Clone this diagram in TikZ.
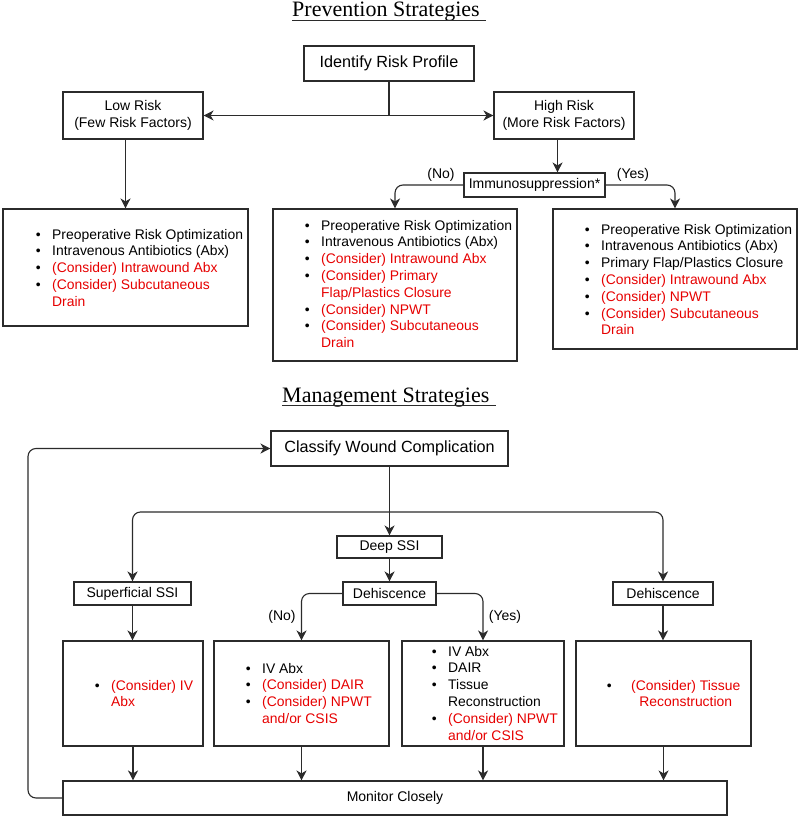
\documentclass[tikz,border=0pt]{standalone}
\usepackage{fontspec}
\setmainfont{Liberation Sans}
\newfontfamily\serifttl{Liberation Serif}
\usetikzlibrary{arrows.meta}
\definecolor{redtxt}{HTML}{E60000}
\definecolor{linec}{HTML}{2B2B2B}
\newcommand\bul{\llap{\textbullet\hspace{11.5pt}}}
\newcommand\rd[1]{\textcolor{redtxt}{#1}}
\tikzset{
  box/.style={draw=linec, line width=1.1pt, inner sep=0pt, align=center, font=\fontsize{14}{17.5}\selectfont},
  bigbox/.style={box, font=\fontsize{16.2}{19}\selectfont},
  arr/.style={draw=linec, line width=1.1pt, -{Stealth[length=10pt,width=10pt,inset=3pt]}},
  listtxt/.style={anchor=base west, inner sep=0pt, font=\fontsize{13.9}{16.8}\selectfont},
  lbl/.style={inner sep=0pt, font=\fontsize{14}{17}\selectfont},
  ttl/.style={anchor=base west, inner sep=0pt, font=\serifttl\fontsize{22}{26}\selectfont},
  uline/.style={draw=linec, line width=0.8pt},
}
\begin{document}
\begin{tikzpicture}[x=1pt, y=-1pt]
\useasboundingbox (0,0) rectangle (800,818);

% ---------- Prevention ----------
\node[ttl] (ptitle) at (292,17) {Prevention Strategies};
\draw[uline] ([yshift=-3pt]ptitle.base west) -- ([yshift=-3pt,xshift=6pt]ptitle.base east);

\node[bigbox, minimum width=170, minimum height=35] (identify) at (389,63.5) {Identify Risk Profile};
\node[box, minimum width=140, minimum height=47] (low) at (133,115.5) {Low Risk\\(Few Risk Factors)};
\node[box, minimum width=140, minimum height=47] (high) at (564,115.5) {High Risk\\(More Risk Factors)};
\node[box, minimum width=141, minimum height=24] (immuno) at (534.5,185) {Immunosuppression*};
\node[lbl] (pno) at (441,175) {(No)};
\node[lbl] (pyes) at (633,175) {(Yes)};

\node[box, minimum width=245, minimum height=117] (lowbox) at (125.5,267.5) {};
\node[box, minimum width=244, minimum height=152] (midbox) at (395,285) {};
\node[box, minimum width=244, minimum height=140] (rightbox) at (675,279) {};

\node[listtxt] (lowtxt) at (52,239) {\begin{tabular}[t]{@{}l@{}}
\bul Preoperative Risk Optimization\\
\bul Intravenous Antibiotics (Abx)\\
\bul\rd{(Consider) Intrawound Abx}\\
\bul\rd{(Consider) Subcutaneous}\\
\rd{Drain}
\end{tabular}};
\node[listtxt] (midtxt) at (321,230) {\begin{tabular}[t]{@{}l@{}}
\bul Preoperative Risk Optimization\\
\bul Intravenous Antibiotics (Abx)\\
\bul\rd{(Consider) Intrawound Abx}\\
\bul\rd{(Consider) Primary}\\
\rd{Flap/Plastics Closure}\\
\bul\rd{(Consider) NPWT}\\
\bul\rd{(Consider) Subcutaneous}\\
\rd{Drain}
\end{tabular}};
\node[listtxt] (righttxt) at (601,234) {\begin{tabular}[t]{@{}l@{}}
\bul Preoperative Risk Optimization\\
\bul Intravenous Antibiotics (Abx)\\
\bul Primary Flap/Plastics Closure\\
\bul\rd{(Consider) Intrawound Abx}\\
\bul\rd{(Consider) NPWT}\\
\bul\rd{(Consider) Subcutaneous}\\
\rd{Drain}
\end{tabular}};

\draw[arr] (identify.south) |- (low.east);
\draw[arr] (identify.south) |- (high.west);
\draw[arr] (low.south -| lowbox.north) -- (lowbox.north);
\draw[arr] ([xshift=-6.5pt]high.south) -- ([xshift=-6.5pt]high.south |- immuno.north);
\draw[arr, rounded corners=8pt] (immuno.west) -| (midbox.north);
\draw[arr, rounded corners=8pt] (immuno.east) -| (rightbox.north);

% ---------- Management ----------
\node[ttl] (mtitle) at (282,402) {Management Strategies};
\draw[uline] ([yshift=-3pt]mtitle.base west) -- ([yshift=-3pt,xshift=6pt]mtitle.base east);

\node[bigbox, minimum width=237, minimum height=35] (classify) at (389.5,448.5) {Classify Wound Complication};
\node[box, minimum width=105, minimum height=22] (deep) at (389.5,547) {Deep SSI};
\node[box, minimum width=93, minimum height=23] (dehis) at (389.5,593.5) {Dehiscence};
\node[box, minimum width=117, minimum height=23] (superficial) at (132.5,593.5) {Superficial SSI};
\node[box, minimum width=100, minimum height=23] (dehisR) at (663,593.5) {Dehiscence};
\node[lbl] (mno) at (282,617) {(No)};
\node[lbl] (myes) at (505,617) {(Yes)};

\node[box, minimum width=140, minimum height=105] (b1) at (133,693.5) {};
\node[box, minimum width=175, minimum height=105] (b2) at (301.5,693.5) {};
\node[box, minimum width=162, minimum height=105] (b3) at (483,693.5) {};
\node[box, minimum width=175, minimum height=105] (b4) at (663.5,693.5) {};
\node[box, minimum width=664, minimum height=34] (monitor) at (395,798) {Monitor Closely};

\node[listtxt] (b1txt) at (111,690) {\begin{tabular}[t]{@{}l@{}}
\bul\rd{(Consider) IV}\\
\rd{Abx}
\end{tabular}};
\node[listtxt] (b2txt) at (262,673) {\begin{tabular}[t]{@{}l@{}}
\bul IV Abx\\
\bul\rd{(Consider) DAIR}\\
\bul\rd{(Consider) NPWT}\\
\rd{and/or CSIS}
\end{tabular}};
\node[listtxt] (b3txt) at (448,656) {\begin{tabular}[t]{@{}l@{}}
\bul IV Abx\\
\bul DAIR\\
\bul Tissue\\
Reconstruction\\
\bul\rd{(Consider) NPWT}\\
\rd{and/or CSIS}
\end{tabular}};
\node[listtxt] (b4txt) at (606.6,690) {\begin{tabular}[t]{@{}l@{\hspace{19.5pt}}c@{}}
\textbullet & \rd{(Consider) Tissue}\\
 & \rd{Reconstruction}
\end{tabular}};

\coordinate (split) at (389.5,512);
\coordinate (loopx) at (28,0);
\draw[arr] (classify.south) -- (deep.north);
\draw[arr, rounded corners=8pt] (split) -| (superficial.north);
\draw[arr, rounded corners=8pt] (split) -| (dehisR.north);
\draw[arr] (deep.south) -- (dehis.north);
\draw[arr, rounded corners=8pt] (dehis.west) -| (b2.north);
\draw[arr, rounded corners=8pt] (dehis.east) -| (b3.north);
\draw[arr] (superficial.south) -- (superficial.south |- b1.north);
\draw[arr] (dehisR.south) -- (dehisR.south |- b4.north);
\draw[arr] (b1.south) -- (b1.south |- monitor.north);
\draw[arr] (b2.south) -- (b2.south |- monitor.north);
\draw[arr] (b3.south) -- (b3.south |- monitor.north);
\draw[arr] (b4.south) -- (b4.south |- monitor.north);
\draw[arr, rounded corners=8pt] (monitor.west) -- (monitor.west -| loopx) -- (classify.west -| loopx) -- (classify.west);
\end{tikzpicture}
\end{document}
